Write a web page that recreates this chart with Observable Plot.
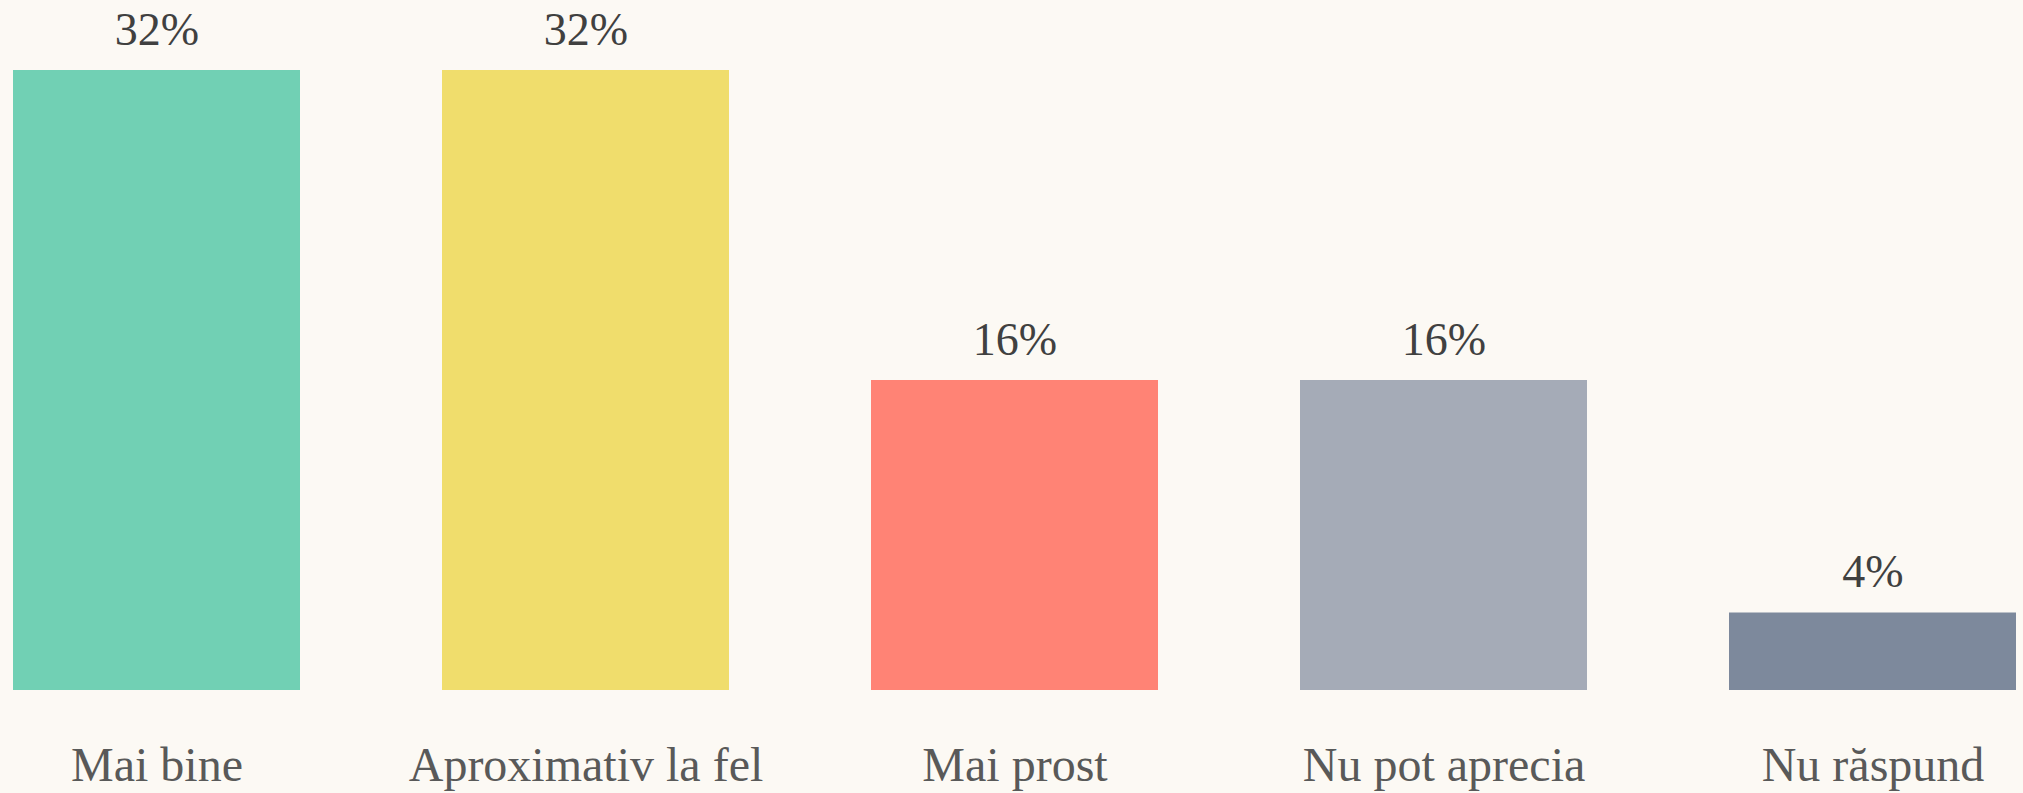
<!DOCTYPE html>
<html>
<head>
<meta charset="utf-8">
<script src="https://cdn.jsdelivr.net/npm/d3@7"></script>
<script src="https://cdn.jsdelivr.net/npm/@observablehq/plot@0.6"></script>
<style>
  html, body { margin: 0; padding: 0; background: #fcf9f4; overflow: hidden; }
  #chart svg { display: block; }
</style>
</head>
<body>
<div id="chart"></div>
<script>
const categories = ["Mai bine", "Aproximativ la fel", "Mai prost", "Nu pot aprecia", "Nu răspund"];
const values = [32, 32, 16, 16, 4];
const colors = ["#71d0b4", "#f0dd6c", "#ff8375", "#a5abb7", "#7d899c"];

const data = categories.map((c, i) => ({category: c, value: values[i], color: colors[i]}));

const chart = Plot.plot({
  width: 2023,
  height: 793,
  marginTop: 70,
  marginBottom: 103,
  marginLeft: 12,
  marginRight: 6,
  style: {background: "#fcf9f4", fontFamily: "'Liberation Serif', 'DejaVu Serif', serif"},
  x: {domain: categories, paddingInner: 0.332, paddingOuter: 0, label: null},
  y: {domain: [0, 32], axis: null},
  marks: [
    Plot.barY(data, {x: "category", y: "value", fill: "color"}),
    Plot.text(data, {x: "category", y: "value", text: d => d.value + "%", dy: -26, lineAnchor: "bottom", fontSize: 46, fill: "#404040"}),
    Plot.axisX({tickSize: 0, tickPadding: 56, fontSize: 48, label: null, color: "#595959"})
  ]
});
document.getElementById("chart").appendChild(chart);
</script>
</body>
</html>
